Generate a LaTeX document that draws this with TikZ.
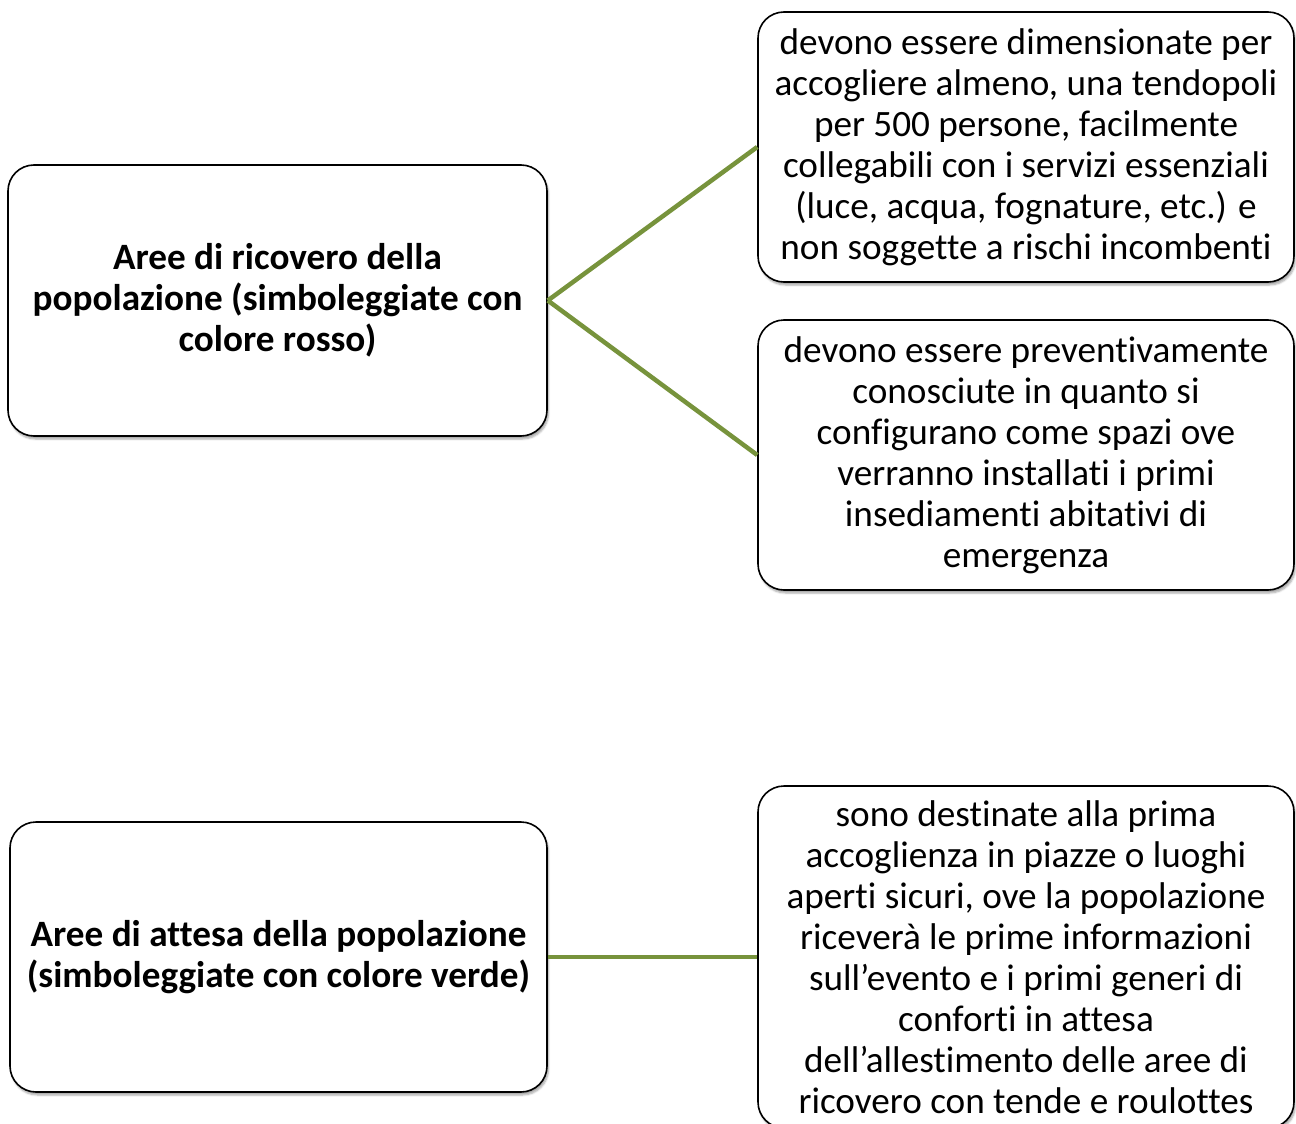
\documentclass[tikz,border=0pt]{standalone}
\usepackage{fontspec}
\setmainfont{Carlito}[RawFeature={-liga;-clig;-calt;-dlig}]
\usetikzlibrary{shadows.blur}
\begin{document}
\begin{tikzpicture}[x=1pt,y=-1pt,
  box/.style={draw=black, line width=1.6pt, rounded corners=26pt, fill=white,
    align=center, inner sep=0pt,
    blur shadow={shadow xshift=1.5pt, shadow yshift=-3pt, shadow blur steps=5, shadow blur extra rounding=2pt, shadow opacity=35},
    font=\fontsize{37.2}{41}\selectfont},
  headbox/.style={box, font=\fontsize{37.2}{41}\selectfont\bfseries},
  link/.style={draw={rgb,255:red,119;green,147;blue,60}, line width=4.5pt}]
\useasboundingbox (0,0) rectangle (1296,1124);

% main topics on the left
\node[headbox, minimum width=539pt, minimum height=271pt] (ricovero) at (277.5,300.5)
  {Aree di ricovero della\\popolazione (simboleggiate con\\colore rosso)};
\node[headbox, minimum width=537pt, minimum height=270pt] (attesa) at (278.5,957)
  {Aree di attesa della popolazione\\(simboleggiate con colore verde)};

% descriptions on the right
\node[box, minimum width=536pt, minimum height=270pt] (dim) at (1026,147)
  {devono essere dimensionate per\\accogliere almeno, una tendopoli\\per 500 persone, facilmente\\collegabili con i servizi essenziali\\(luce, acqua, fognature, etc.) e\\non soggette a rischi incombenti};
\node[box, minimum width=536pt, minimum height=270pt] (conos) at (1026,455)
  {devono essere preventivamente\\conosciute in quanto si\\configurano come spazi ove\\verranno installati i primi\\insediamenti abitativi di\\emergenza};
\node[box, minimum width=536pt, minimum height=342pt] (dest) at (1026,957)
  {sono destinate alla prima\\accoglienza in piazze o luoghi\\aperti sicuri, ove la popolazione\\riceverà le prime informazioni\\sull’evento e i primi generi di\\conforti in attesa\\dell’allestimento delle aree di\\ricovero con tende e roulottes};

% connectors
\draw[link] (ricovero.east) -- (dim.west);
\draw[link] (ricovero.east) -- (conos.west);
\draw[link] (attesa.east) -- (dest.west);
\end{tikzpicture}
\end{document}
